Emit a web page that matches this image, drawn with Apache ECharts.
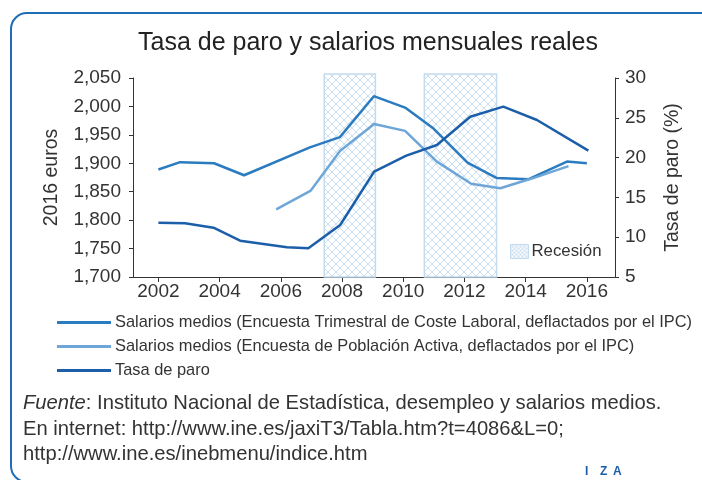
<!DOCTYPE html>
<html>
<head>
<meta charset="utf-8">
<script src="https://cdn.jsdelivr.net/npm/echarts@6/dist/echarts.min.js"></script>
<style>
  html, body { margin: 0; padding: 0; background: #fff; }
  #chart { width: 702px; height: 480px; }
</style>
</head>
<body>
<div id="chart"></div>
<script>
// Values (x = fractional year)
const etclYears = [2002.0, 2002.71, 2003.82, 2004.8, 2006.95, 2007.93, 2009.04, 2010.06, 2010.99, 2012.1, 2013.06, 2014.1, 2015.35, 2016.0]
const etclValues = [1889, 1902, 1900, 1879, 1928, 1946, 2018, 1998, 1961, 1901, 1874, 1872, 1903, 1900]

const epaYears = [2005.85, 2006.98, 2007.94, 2009.05, 2010.06, 2011.1, 2012.22, 2013.17, 2014.25, 2015.4]
const epaValues = [1819, 1852, 1922, 1969, 1957, 1903, 1864, 1856, 1874, 1895]

const paroYears = [2002.0, 2002.87, 2003.8, 2004.67, 2006.2, 2006.9, 2007.94, 2009.05, 2010.1, 2011.1, 2012.19, 2013.27, 2014.37, 2016.05]
const paroValues = [11.8, 11.75, 11.2, 9.56, 8.73, 8.6, 11.53, 18.23, 20.25, 21.58, 25.14, 26.4, 24.72, 20.87]

const recessions = [[2007.42, 2009.09], [2010.69, 2013.05]]

const yearTicks = [2002, 2004, 2006, 2008, 2010, 2012, 2014, 2016]

const seriesNames = [
  'Salarios medios (Encuesta Trimestral de Coste Laboral, deflactados por el IPC)',
  'Salarios medios (Encuesta de Población Activa, deflactados por el IPC)',
  'Tasa de paro'
]
const recessionName = 'Recesión'

const sourceLines = [
  '{i|Fuente}: Instituto Nacional de Estadística, desempleo y salarios medios.',
  'En internet: http://www.ine.es/jaxiT3/Tabla.htm?t=4086&L=0;',
  'http://www.ine.es/inebmenu/indice.htm'
]

const logoLetters = ['I', 'Z', 'A']

const zip = (xs, ys) => xs.map((x, i) => [x, ys[i]])

// crosshatch tile used for the recession bands
function hatch(size, color) {
  const c = document.createElement('canvas')
  c.width = c.height = size
  const g = c.getContext('2d')
  g.fillStyle = '#fff'
  g.fillRect(0, 0, size, size)
  g.strokeStyle = color
  g.lineWidth = 1
  g.beginPath()
  g.moveTo(-1, -1); g.lineTo(size + 1, size + 1)
  g.moveTo(size + 1, -1); g.lineTo(-1, size + 1)
  g.stroke()
  return c
}

const AXIS = '#333'
const FONT = '"Liberation Sans", Arial, sans-serif'
const GRID = { left: 133, right: 87, top: 78, bottom: 203 }

const chart = echarts.init(document.getElementById('chart'), null, { renderer: 'canvas' })

chart.setOption({
  animation: false,
  textStyle: { fontFamily: FONT },
  grid: [
    Object.assign({}, GRID),
    Object.assign({}, GRID, { top: 74 })
  ],
  legend: [
    {
      orient: 'vertical',
      left: 57,
      top: 313.5,
      padding: 0,
      itemWidth: 54,
      itemHeight: 3,
      itemGap: 6,
      icon: 'rect',
      data: seriesNames,
      textStyle: { fontSize: 16.4, color: AXIS, lineHeight: 18, padding: [0, 0, 0, -1] },
      selectedMode: false
    },
    {
      left: 510,
      top: 243,
      padding: 0,
      itemWidth: 18,
      itemHeight: 14,
      selectedMode: false,
      data: [{
        name: recessionName,
        icon: 'rect',
        itemStyle: { color: { image: hatch(4, '#c9def0'), repeat: 'repeat' }, borderColor: '#c4dbee', borderWidth: 1 }
      }],
      textStyle: { fontSize: 16.8, color: AXIS, padding: [0, 0, 0, -2] }
    }
  ],
  xAxis: [
    {
      type: 'value',
      gridIndex: 0,
      min: 2001.17,
      max: 2016.92,
      axisLine: { show: true, lineStyle: { color: AXIS, width: 1 } },
      axisTick: { show: true, length: 5, customValues: yearTicks, lineStyle: { color: AXIS } },
      axisLabel: { customValues: yearTicks, formatter: v => String(v), fontSize: 19, color: AXIS, margin: 5 },
      splitLine: { show: false }
    },
    {
      type: 'value',
      gridIndex: 1,
      min: 2001.17,
      max: 2016.92,
      show: false
    }
  ],
  yAxis: [
    {
      type: 'value',
      gridIndex: 0,
      position: 'left',
      min: 1700,
      max: 2050,
      interval: 50,
      name: '2016 euros',
      nameLocation: 'middle',
      nameGap: 71,
      nameRotate: 90,
      nameTextStyle: { fontSize: 19.5, color: AXIS },
      axisLine: { show: true, lineStyle: { color: AXIS, width: 1 } },
      axisTick: { show: true, length: 4, lineStyle: { color: AXIS } },
      axisLabel: { formatter: v => v.toLocaleString('en-US'), fontSize: 19, color: AXIS, margin: 12 },
      splitLine: { show: false }
    },
    {
      type: 'value',
      gridIndex: 0,
      position: 'right',
      min: 5,
      max: 30,
      interval: 5,
      name: 'Tasa de paro (%)',
      nameLocation: 'middle',
      nameGap: 48,
      nameRotate: 90,
      nameTextStyle: { fontSize: 19.5, color: AXIS },
      axisLine: { show: true, lineStyle: { color: AXIS, width: 1 } },
      axisTick: { show: true, length: 4, lineStyle: { color: AXIS } },
      axisLabel: { fontSize: 19, color: AXIS, margin: 10 },
      splitLine: { show: false }
    },
    {
      type: 'value',
      gridIndex: 1,
      min: 0,
      max: 1,
      show: false
    }
  ],
  series: [
    {
      name: recessionName,
      type: 'line',
      xAxisIndex: 1,
      yAxisIndex: 2,
      data: [],
      z: 1,
      silent: true,
      markArea: {
        silent: true,
        itemStyle: {
          color: { image: hatch(8, '#c9def0'), repeat: 'repeat' },
          borderColor: '#c4dbee',
          borderWidth: 1.5
        },
        data: recessions.map(r => [{ xAxis: r[0] }, { xAxis: r[1] }])
      }
    },
    {
      name: seriesNames[0],
      type: 'line',
      xAxisIndex: 0,
      yAxisIndex: 0,
      data: zip(etclYears, etclValues),
      showSymbol: false,
      color: '#2b7bc0',
      lineStyle: { width: 2.5 },
      z: 3
    },
    {
      name: seriesNames[1],
      type: 'line',
      xAxisIndex: 0,
      yAxisIndex: 0,
      data: zip(epaYears, epaValues),
      showSymbol: false,
      color: '#6ea6d8',
      lineStyle: { width: 2.5 },
      z: 3
    },
    {
      name: seriesNames[2],
      type: 'line',
      xAxisIndex: 0,
      yAxisIndex: 1,
      data: zip(paroYears, paroValues),
      showSymbol: false,
      color: '#1b5ea9',
      lineStyle: { width: 2.5 },
      z: 3
    }
  ],
  graphic: [
    {
      type: 'rect',
      shape: { x: 11, y: 13, width: 720, height: 469, r: 16 },
      style: { fill: 'none', stroke: '#1f6db6', lineWidth: 2 },
      silent: true,
      z: -1
    },
    {
      type: 'text',
      x: 368,
      y: 43,
      style: {
        text: 'Tasa de paro y salarios mensuales reales',
        font: '25px ' + FONT,
        fill: '#222',
        textAlign: 'center',
        textVerticalAlign: 'middle'
      }
    },
    {
      type: 'text',
      x: 23,
      y: 391,
      style: {
        text: sourceLines.join('\n'),
        fontSize: 20.2,
        fontFamily: FONT,
        lineHeight: 25.5,
        fill: AXIS,
        textVerticalAlign: 'top',
        rich: {
          i: { fontStyle: 'italic', fontSize: 20.2, fontFamily: FONT, fill: AXIS, lineHeight: 25.5 }
        }
      }
    }
  ].concat(logoLetters.map((ch, i) => ({
    type: 'text',
    x: [585, 600, 613][i],
    y: 472,
    style: {
      text: ch,
      font: 'bold 12px ' + FONT,
      fill: '#1b5ea9',
      textVerticalAlign: 'middle'
    }
  })))
})
</script>
</body>
</html>
